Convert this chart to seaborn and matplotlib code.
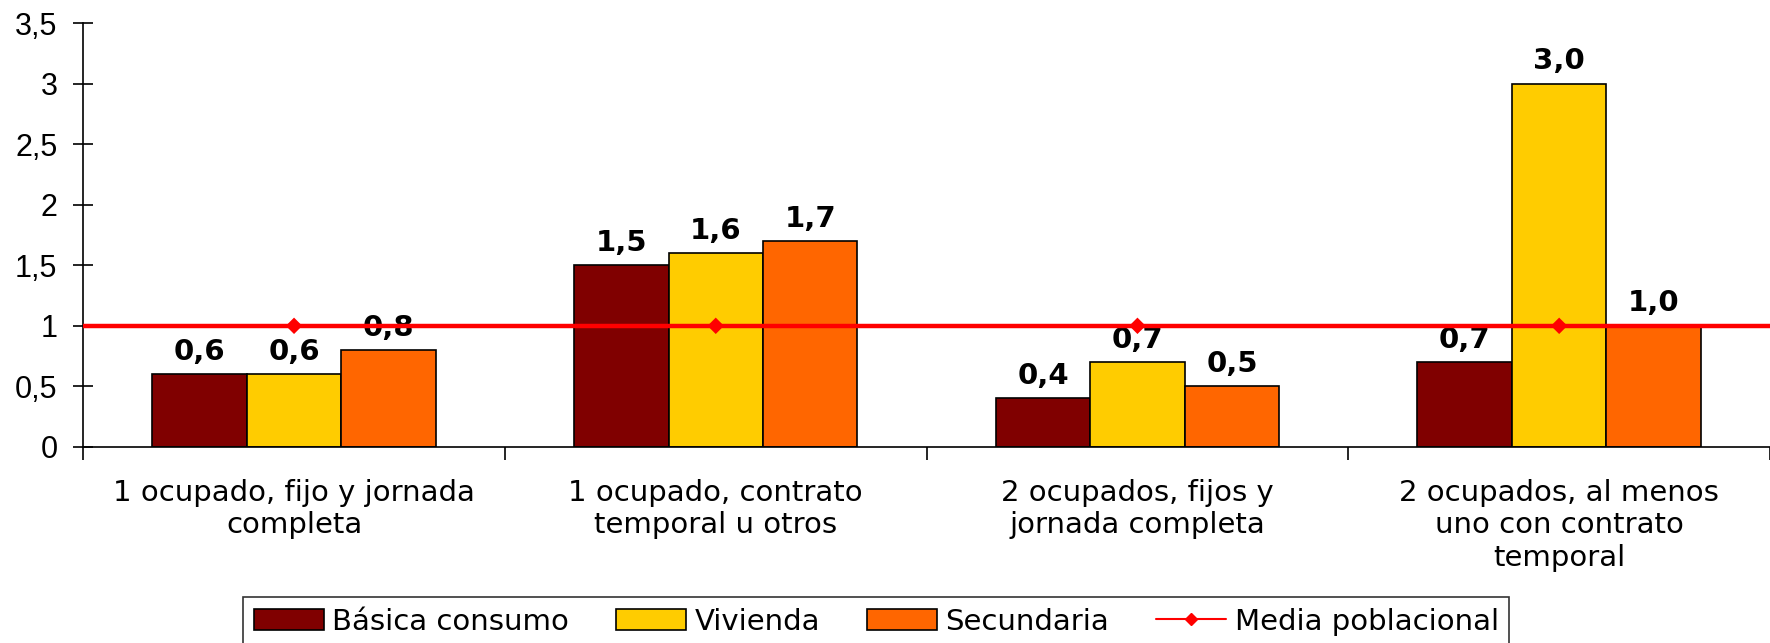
import numpy as np
import pandas as pd
import matplotlib
matplotlib.use("Agg")
import matplotlib.pyplot as plt
import seaborn as sns
from matplotlib.patches import Patch
from matplotlib.lines import Line2D
from matplotlib.ticker import FuncFormatter, FixedLocator

# datos
categorias = ["1 ocupado, fijo y jornada\ncompleta",
              "1 ocupado, contrato\ntemporal u otros",
              "2 ocupados, fijos y\njornada completa",
              "2 ocupados, al menos\nuno con contrato\ntemporal"]
series = ["Básica consumo", "Vivienda", "Secundaria"]
basica = [0.6, 1.5, 0.4, 0.7]
vivienda = [0.6, 1.6, 0.7, 3.0]
secundaria = [0.8, 1.7, 0.5, 1.0]
media = [1.0, 1.0, 1.0, 1.0]
colores = ["#800000", "#FFCC00", "#FF6600"]

df = pd.DataFrame({
    "categoria": categorias * 3,
    "serie": np.repeat(series, len(categorias)),
    "valor": basica + vivienda + secundaria,
})

sns.set_style("white")
plt.rcParams["font.family"] = ["DejaVu Sans"]
plt.rcParams["text.color"] = "black"
plt.rcParams["xtick.color"] = "black"
plt.rcParams["ytick.color"] = "black"

fig = plt.figure(figsize=(17.7, 6.43), dpi=100)
ax = fig.add_axes([0.047, 0.305, 0.953, 0.659])

sns.barplot(data=df, x="categoria", y="valor", hue="serie", palette=colores,
            saturation=1, width=0.672, gap=0, edgecolor="black",
            linewidth=1.2, legend=False, ax=ax)

for cont in ax.containers:
    etiquetas = [f"{v:.1f}".replace(".", ",") for v in cont.datavalues]
    ax.bar_label(cont, labels=etiquetas, padding=6, fontsize=21,
                 fontweight="bold", color="black")

# media poblacional
ax.axhline(media[0], color="#FF0000", linewidth=3.2, zorder=4)
sns.scatterplot(x=np.arange(len(categorias)), y=media, marker="D", s=70,
                color="#FF0000", edgecolor="none", zorder=5, ax=ax)

ax.set_xlim(-0.5, len(categorias) - 0.5)
ax.set_ylim(0, 3.5)
ax.set_yticks(np.arange(0, 3.51, 0.5))
ax.yaxis.set_major_formatter(FuncFormatter(
    lambda v, p: f"{v:g}".replace(".", ",")))
ax.tick_params(axis="y", direction="inout", length=15, width=1.2,
               labelsize=22, pad=11, left=True,
               labelfontfamily="Liberation Sans")

ax.xaxis.set_major_locator(FixedLocator(np.arange(-0.5, len(categorias), 1.0)))
ax.xaxis.set_minor_locator(FixedLocator(np.arange(len(categorias))))
ax.set_xticklabels([""] * (len(categorias) + 1))
ax.set_xticklabels(categorias, minor=True)
ax.tick_params(axis="x", which="major", direction="out", length=9, width=1.2,
               bottom=True)
ax.tick_params(axis="x", which="minor", length=0, pad=23, labelsize=21)
ax.set_xlabel("")
ax.set_ylabel("")

for s in ["top", "right"]:
    ax.spines[s].set_visible(False)
for s in ["left", "bottom"]:
    ax.spines[s].set_linewidth(1.2)
    ax.spines[s].set_color("black")

handles = [Patch(facecolor=c, edgecolor="black", linewidth=1.2) for c in colores]
handles.append(Line2D([0], [0], color="#FF0000", linewidth=1.5, marker="D",
                      markersize=6))
leg = fig.legend(handles, series + ["Media poblacional"], ncol=4,
                 loc="upper center", bbox_to_anchor=(0.495, 0.071),
                 fontsize=21, frameon=True, fancybox=False,
                 edgecolor="black", handlelength=2.4, handleheight=0.7,
                 columnspacing=1.6, handletextpad=0.3, borderpad=0.35,
                 borderaxespad=0)
leg.get_frame().set_linewidth(1.2)

fig.savefig("out.png", dpi=100)
